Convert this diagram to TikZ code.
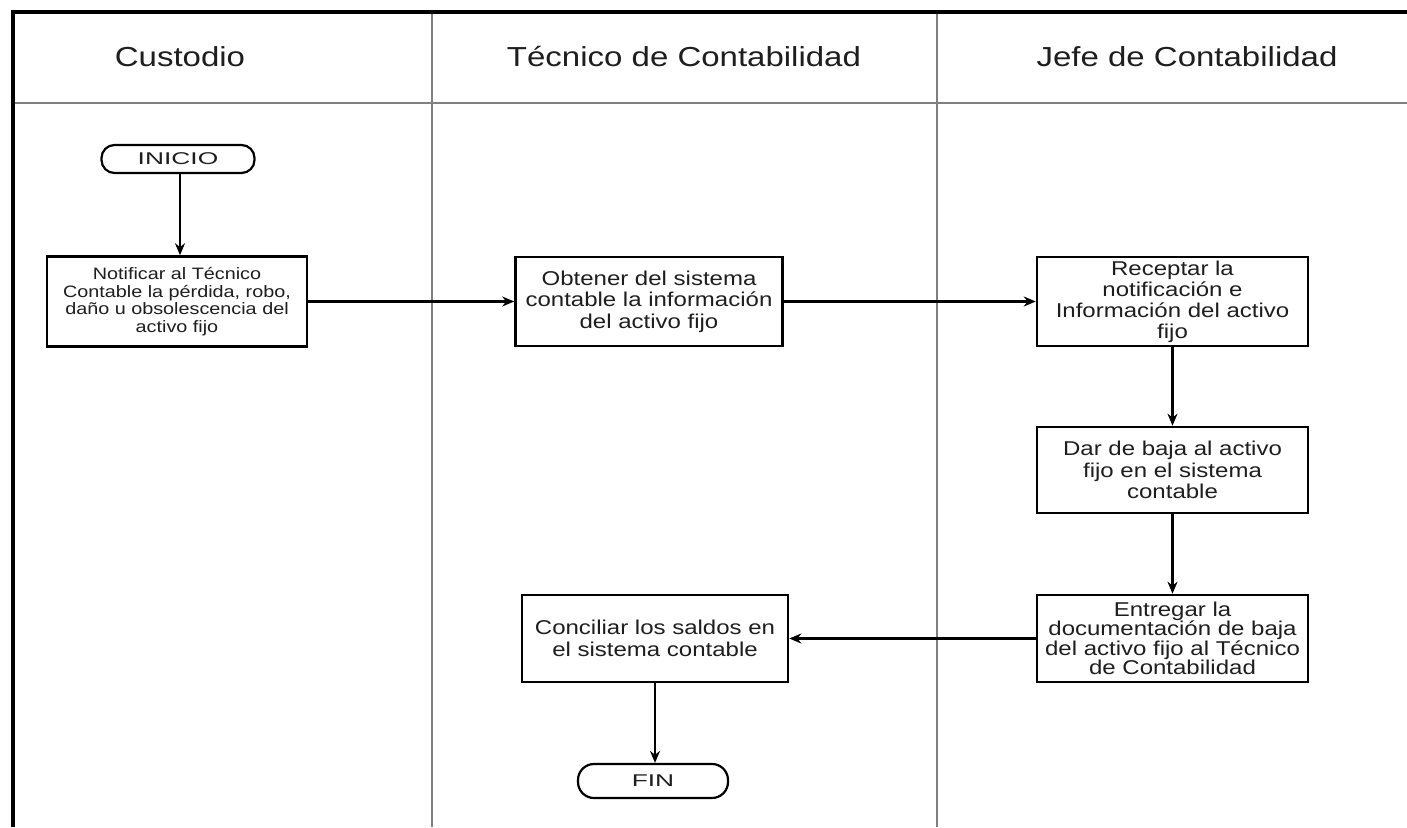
\documentclass[tikz,border=0pt]{standalone}
\usepackage{fontspec}
\setmainfont{Liberation Sans}[FakeStretch=1.2]
\newfontfamily\termfont{Liberation Sans}[FakeStretch=1.55]
\usetikzlibrary{arrows.meta}
\definecolor{lane}{HTML}{808080}
\definecolor{ink}{HTML}{1E1E1E}
\tikzset{
  lanehead/.style={text=ink, font=\fontsize{27.5}{30}\selectfont},
  procbox/.style={draw=black, line width=2.6pt, fill=white, text=ink, align=center,
    inner sep=0pt, minimum width=#1, font=\fontsize{20}{21.5}\selectfont},
  terminal/.style={draw=black, line width=2.2pt, fill=white, text=ink,
    rounded corners=13pt, inner sep=0pt, font=\termfont\fontsize{17}{18}\selectfont},
  flow/.style={draw=black, line width=2.4pt, -{Stealth[length=12pt,width=10pt]}},
  laneline/.style={draw=lane, line width=2pt},
  frameline/.style={draw=black, line width=3.6pt}
}
\begin{document}
\begin{tikzpicture}[x=1pt, y=-1pt]
\useasboundingbox (0,0) rectangle (1407,827);
\fill[white] (0,0) rectangle (1407,827);

% swimlane grid
\draw[laneline] (13,103) -- (1407,103);
\draw[laneline] (432,12) -- (432,827);
\draw[laneline] (937,12) -- (937,827);
\draw[frameline] (13,827) -- (13,12) -- (1407,12);

% lane headings
\node[lanehead] (hcust) at (180,57) {Custodio};
\node[lanehead] (htec)  at (684,57) {Técnico de Contabilidad};
\node[lanehead] (hjefe) at (1187,57) {Jefe de Contabilidad};

% steps
\node[terminal, minimum width=153pt, minimum height=28pt] (inicio) at (178,159) {INICIO};
\node[procbox=260pt, minimum height=90pt, font=\fontsize{16.5}{17.5}\selectfont] (notif) at (177,301.5)
  {Notificar al Técnico\\Contable la pérdida, robo,\\daño u obsolescencia del\\activo fijo};
\node[procbox=267pt, minimum height=89pt] (obt) at (649,301.5)
  {Obtener del sistema\\contable la información\\del activo fijo};
\node[procbox=271pt, minimum height=89pt, font=\fontsize{20}{21}\selectfont] (recep) at (1172.5,301.5)
  {Receptar la\\notificación e\\Información del activo\\fijo};
\node[procbox=271pt, minimum height=86pt] (baja) at (1172.5,470)
  {Dar de baja al activo\\fijo en el sistema\\contable};
\node[procbox=271pt, minimum height=87pt, font=\fontsize{20}{19.5}\selectfont] (entr) at (1172.5,638.5)
  {Entregar la\\documentación de baja\\del activo fijo al Técnico\\de Contabilidad};
\node[procbox=266pt, minimum height=87pt] (conc) at (655,638.5)
  {Conciliar los saldos en\\el sistema contable};
\node[terminal, minimum width=150pt, minimum height=34pt, rounded corners=16pt] (fin) at (653,781) {FIN};

% connectors
\draw[flow] (inicio.south -| 180,0) -- (180,0 |- notif.north);
\draw[flow] (notif.east) -- (obt.west);
\draw[flow] (obt.east) -- (recep.west);
\draw[flow] (recep.south) -- (baja.north);
\draw[flow] (baja.south) -- (entr.north);
\draw[flow] (entr.west) -- (conc.east);
\draw[flow] (conc.south) -- (conc.south |- fin.north);
\end{tikzpicture}
\end{document}
